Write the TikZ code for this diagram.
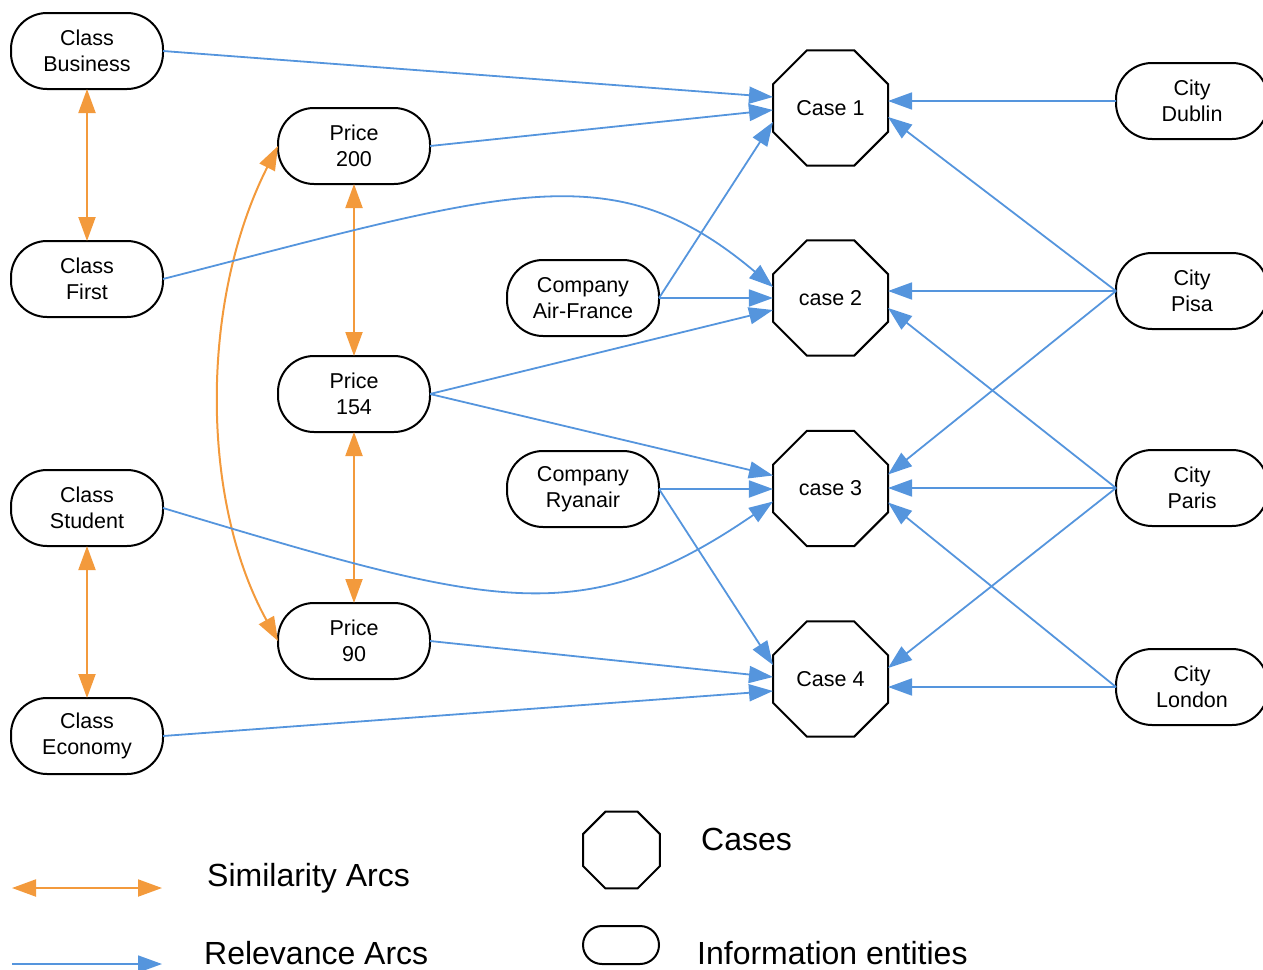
\documentclass[tikz,border=0pt]{standalone}
\usepackage{fontspec}
\setmainfont{Liberation Sans}
\usetikzlibrary{arrows.meta,shapes.geometric}
\definecolor{relblue}{RGB}{85,149,221}
\definecolor{simorange}{RGB}{243,154,60}
\begin{document}
\begin{tikzpicture}[x=1pt,y=-1pt,
  entity/.style={draw, line width=2pt, rounded corners=36pt, minimum width=152pt,
    minimum height=76pt, align=center, inner sep=0pt, outer sep=0pt,
    font=\fontsize{21.5}{26}\selectfont},
  casebox/.style={draw, line width=2pt, regular polygon, regular polygon sides=8,
    minimum size=124.5pt, inner sep=0pt, outer sep=0pt,
    font=\fontsize{21.5}{26}\selectfont},
  tip/.tip={Triangle[length=24pt,width=17pt]},
  rel/.style={draw=relblue, line width=1.8pt, -tip},
  sim/.style={draw=simorange, line width=2pt, tip-tip},
  legtext/.style={anchor=west, inner sep=0pt, font=\fontsize{32}{38}\selectfont}
]
\useasboundingbox (0,0) rectangle (1263,969);
\clip (0,0) rectangle (1263,969);

% information entities
\node[entity] (cb) at (87,51) {Class\\Business};
\node[entity] (cf) at (87,279) {Class\\First};
\node[entity] (cs) at (87,508) {Class\\Student};
\node[entity] (ce) at (87,736) {Class\\Economy};
\node[entity] (p200) at (354,146) {Price\\200};
\node[entity] (p154) at (354,394) {Price\\154};
\node[entity] (p90) at (354,641) {Price\\90};
\node[entity] (af) at (583,298) {Company\\Air-France};
\node[entity] (ry) at (583,489) {Company\\Ryanair};
\node[entity] (dub) at (1192,101) {City\\Dublin};
\node[entity] (pisa) at (1192,291) {City\\Pisa};
\node[entity] (par) at (1192,488) {City\\Paris};
\node[entity] (lon) at (1192,687) {City\\London};

% cases
\node[casebox] (c1) at (830.5,108) {Case 1};
\node[casebox] (c2) at (830.5,298) {case 2};
\node[casebox] (c3) at (830.5,488.5) {case 3};
\node[casebox] (c4) at (830.5,679) {Case 4};

% similarity arcs
\draw[sim] (cb.south) -- (cf.north);
\draw[sim] (cs.south) -- (ce.north);
\draw[sim] (p200.south) -- (p154.north);
\draw[sim] (p154.south) -- (p90.north);
\draw[sim] (p200.west) .. controls (200,300) and (200,500) .. (p90.west);

% relevance arcs into Case 1
\draw[rel] (cb.east) -- ([yshift=11pt]c1.west);
\draw[rel] (p200.east) -- ([yshift=-2pt]c1.west);
\draw[rel] (af.east) -- ([yshift=-14pt]c1.west);
\draw[rel] (dub.west) -- ([yshift=7pt]c1.east);
\draw[rel] (pisa.west) -- ([yshift=-9pt]c1.east);

% relevance arcs into case 2
\draw[rel] (cf.east) .. controls (510,190) and (613,152) .. ([yshift=11pt]c2.west);
\draw[rel] (af.east) -- (c2.west);
\draw[rel] (p154.east) -- ([yshift=-12pt]c2.west);
\draw[rel] (pisa.west) -- ([yshift=7pt]c2.east);
\draw[rel] (par.west) -- ([yshift=-10pt]c2.east);

% relevance arcs into case 3
\draw[rel] (p154.east) -- ([yshift=13pt]c3.west);
\draw[rel] (ry.east) -- ([yshift=-0.5pt]c3.west);
\draw[rel] (cs.east) .. controls (490,606) and (580,634) .. ([yshift=-13pt]c3.west);
\draw[rel] (pisa.west) -- ([yshift=14pt]c3.east);
\draw[rel] (par.west) -- ([yshift=0.5pt]c3.east);
\draw[rel] (lon.west) -- ([yshift=-14pt]c3.east);

% relevance arcs into Case 4
\draw[rel] (ry.east) -- ([yshift=14pt]c4.west);
\draw[rel] (p90.east) -- ([yshift=2pt]c4.west);
\draw[rel] (ce.east) -- ([yshift=-12pt]c4.west);
\draw[rel] (par.west) -- ([yshift=11pt]c4.east);
\draw[rel] (lon.west) -- ([yshift=-8pt]c4.east);

% legend
\coordinate (simL) at (12,888);
\coordinate (simR) at (162,888);
\coordinate (relL) at (12,964);
\coordinate (relR) at (162,964);
\draw[sim] (simL) -- (simR);
\draw[rel] (relL) -- (relR);
\node[legtext] (simtxt) at (207,878) {Similarity Arcs};
\node[legtext] (reltxt) at (204,953) {Relevance Arcs};
\node[casebox, minimum size=83.3pt] (legcase) at (621.5,850) {};
\node[entity, minimum width=76pt, minimum height=38pt, rounded corners=19pt] (legent) at (621,945) {};
\node[legtext] (casetxt) at (701,839) {Cases};
\node[legtext] (enttxt) at (697,953) {Information entities};
\end{tikzpicture}
\end{document}
